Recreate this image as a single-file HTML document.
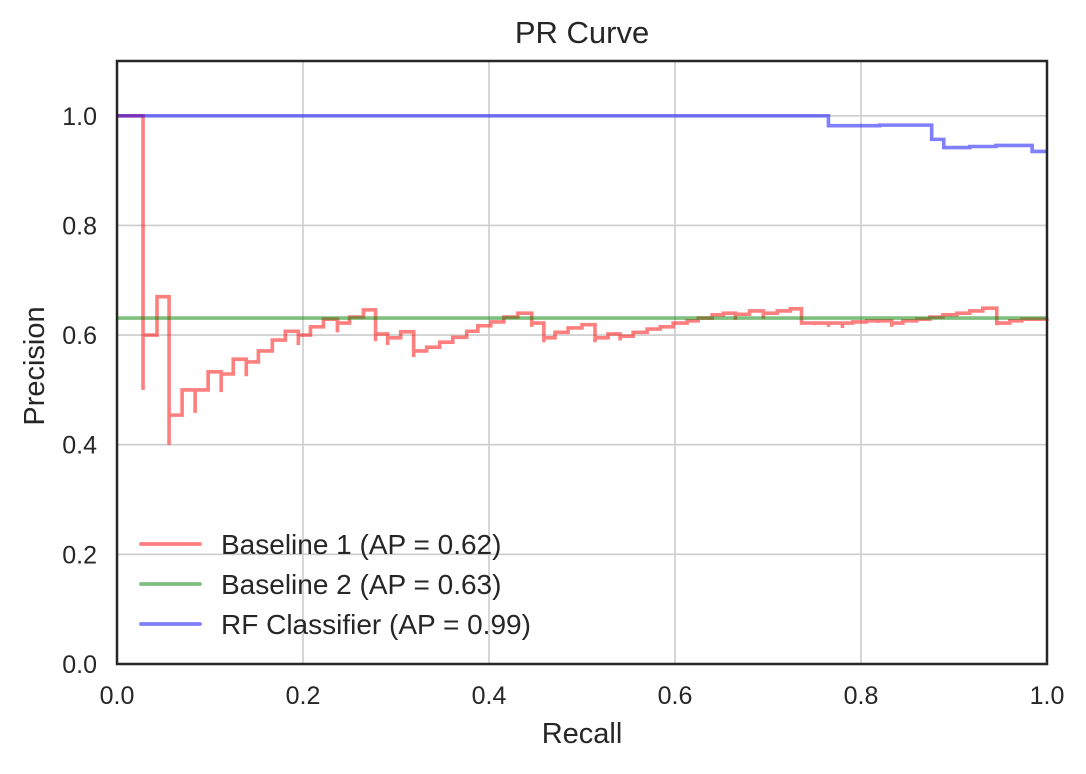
<!DOCTYPE html>
<html><head><meta charset="utf-8"><style>
body{margin:0;background:#fff;}
svg text{font-family:"Liberation Sans",sans-serif;fill:#262626;}
</style></head><body>
<svg id="chart" width="1086" height="769" xmlns="http://www.w3.org/2000/svg">
<rect width="1086" height="769" fill="#fff"/>
<g id="grid"></g>
<g id="series"></g>
<rect x="117" y="61" width="930" height="603" fill="none" stroke="#262626" stroke-width="2.5"/>
<g id="ticks"></g>
<text x="582" y="43" font-size="31" text-anchor="middle">PR Curve</text>
<text x="582" y="743" font-size="29" text-anchor="middle">Recall</text>
<text x="44" y="366" font-size="29" text-anchor="middle" transform="rotate(-90 44 366)">Precision</text>
<g id="legend"></g>
</svg>
<script>
const xTicks=[0,0.2,0.4,0.6,0.8,1.0];
const xTickLabels=["0.0","0.2","0.4","0.6","0.8","1.0"];
const yTicks=[0,0.2,0.4,0.6,0.8,1.0];
const yTickLabels=["0.0","0.2","0.4","0.6","0.8","1.0"];
const seriesNames=["Baseline 1 (AP = 0.62)","Baseline 2 (AP = 0.63)","RF Classifier (AP = 0.99)"];
const baseline1Recall=[0,0.028,0.028,0.043,0.056,0.056,0.07,0.084,0.084,0.098,0.112,0.112,0.125,0.139,0.139,0.152,0.167,0.181,0.195,0.195,0.208,0.222,0.237,0.237,0.25,0.265,0.278,0.278,0.291,0.291,0.305,0.319,0.319,0.333,0.347,0.361,0.376,0.388,0.402,0.416,0.431,0.446,0.446,0.459,0.459,0.471,0.485,0.5,0.514,0.514,0.528,0.541,0.541,0.555,0.57,0.584,0.598,0.613,0.625,0.64,0.652,0.665,0.665,0.68,0.695,0.695,0.71,0.724,0.736,0.75,0.75,0.765,0.765,0.78,0.78,0.791,0.806,0.818,0.818,0.833,0.833,0.845,0.86,0.874,0.888,0.903,0.917,0.931,0.946,0.946,0.96,0.973,1.0];
const baseline1Precision=[1.0,0.50,0.60,0.67,0.40,0.454,0.50,0.458,0.50,0.533,0.496,0.529,0.556,0.525,0.551,0.571,0.591,0.607,0.582,0.60,0.615,0.629,0.605,0.622,0.633,0.646,0.589,0.602,0.582,0.595,0.606,0.56,0.571,0.578,0.587,0.596,0.607,0.617,0.624,0.633,0.64,0.615,0.622,0.587,0.595,0.605,0.613,0.619,0.587,0.595,0.602,0.59,0.598,0.605,0.611,0.615,0.622,0.626,0.631,0.637,0.64,0.628,0.638,0.644,0.63,0.64,0.644,0.648,0.622,0.618,0.622,0.615,0.622,0.613,0.622,0.624,0.626,0.622,0.626,0.615,0.622,0.626,0.629,0.633,0.637,0.64,0.644,0.649,0.618,0.622,0.626,0.629,0.631];
const baseline2Recall=[0,1.0];
const baseline2Precision=[0.631,0.631];
const rfRecall=[0,0.765,0.82,0.876,0.889,0.917,0.945,0.984,1.0];
const rfPrecision=[1.0,0.982,0.983,0.957,0.942,0.944,0.946,0.935,0.935];

const X=r=>117+r*930;
const Y=p=>664-p*548.2;
const NS="http://www.w3.org/2000/svg";
function mk(tag,attrs,parent){const e=document.createElementNS(NS,tag);for(const k in attrs)e.setAttribute(k,attrs[k]);parent.appendChild(e);return e;}
const grid=document.getElementById('grid'),ticks=document.getElementById('ticks'),series=document.getElementById('series'),legend=document.getElementById('legend');
xTicks.forEach((t,i)=>{
  const l=mk('line',{x1:X(t),x2:X(t),y1:61,y2:664,stroke:'#cccccc','stroke-width':1.6},grid);
  
  
  const tx=mk('text',{x:X(t),y:704,'font-size':25,'text-anchor':'middle'},ticks);tx.textContent=xTickLabels[i];
  
  
});
yTicks.forEach((t,i)=>{
  const l=mk('line',{x1:117,x2:1047,y1:Y(t),y2:Y(t),stroke:'#cccccc','stroke-width':1.6},grid);
  
  
  const tx=mk('text',{x:97,y:Y(t)+9,'font-size':25,'text-anchor':'end'},ticks);tx.textContent=yTickLabels[i];
  
  
});
function stepPath(rs,ps){let d='M'+X(rs[0])+','+Y(ps[0]);for(let i=1;i<rs.length;i++){d+=' H'+X(rs[i])+' V'+Y(ps[i]);}return d;}
const colors=['rgba(255,0,0,0.5)','rgba(0,128,0,0.5)','rgba(0,0,255,0.5)'];
const data=[[baseline1Recall,baseline1Precision],[baseline2Recall,baseline2Precision],[rfRecall,rfPrecision]];
const lineNames=['baseline-1-line','baseline-2-line','rf-classifier-line'];
data.forEach((d,i)=>{
  const p=mk('path',{d:stepPath(d[0],d[1]),fill:'none',stroke:colors[i],'stroke-width':3.6,'stroke-linejoin':'miter'},series);
  
  
});
const ly=[544,584,624];
seriesNames.forEach((n,i)=>{
  const g=mk('g',{},legend);
  
  
  mk('line',{x1:141,x2:200,y1:ly[i],y2:ly[i],stroke:colors[i],'stroke-width':3.8,'stroke-linecap':'round'},g);
  const t=mk('text',{x:221,y:ly[i]+10,'font-size':28},g);t.textContent=n;
});
</script>
</body></html>
